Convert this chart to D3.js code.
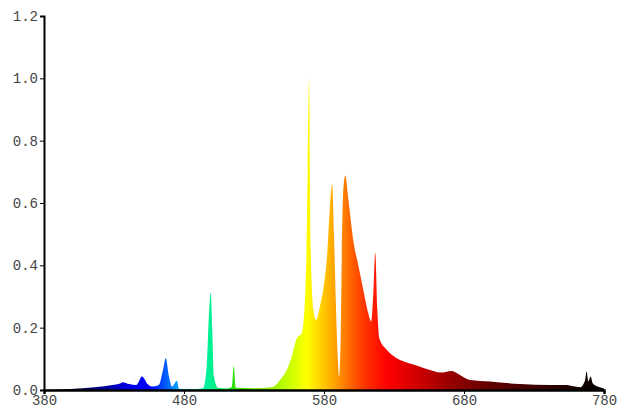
<!DOCTYPE html>
<html>
<head>
<meta charset="utf-8">
<script src="https://cdn.jsdelivr.net/npm/d3@7"></script>
<style>
	body { margin: 0; background: #fff; }
	svg { display: block; }
	.tick text { font-family: "Liberation Mono", "DejaVu Sans Mono", monospace; font-size: 14px; fill: #444; }
</style>
</head>
<body>
<svg width="622" height="412"></svg>
<script>
// wavelength (nm) and relative intensity
const wavelengths = [
	380, 399, 416, 430, 435, 436, 441, 446, 450, 454, 457, 462, 465, 467, 469.3, 471.4, 475, 476.4,
	485, 493.6, 496.2, 497.9, 499.1, 500.2, 501.4, 504.3, 510, 514.1, 515.5, 517.1, 530, 543.6,
	548.6, 553.4, 556.9, 560.5, 564.1, 566.4, 567.5, 568.4, 569.3, 570.5, 572.4, 574.3, 577.1, 580.7,
	582.5, 583.8, 585.9, 587.1, 588.4, 589.8, 590.7, 591.9, 592.6, 593.8, 595.2, 597.4, 600.9, 604.5,
	608.1, 611.6, 613.6, 615.2, 616.6, 618.1, 619.5, 624.8, 631.9, 636.6, 648.6, 655.7, 662.9,
	667, 671.2, 677.1, 684.3, 698.6, 720, 741.4, 753.4, 758, 762.9, 766.4, 767.6, 768.8, 770.5,
	771.9, 777.1, 780
]
const intensity = [
	0.0, 0.003, 0.009, 0.017, 0.022, 0.025, 0.019, 0.016, 0.043, 0.019, 0.011, 0.016, 0.064, 0.102, 0.043, 0.011, 0.030, 0.004,
	0.003, 0.006, 0.075, 0.25, 0.313, 0.19, 0.043, 0.007, 0.005, 0.01, 0.077, 0.007, 0.006, 0.01,
	0.032, 0.064, 0.107, 0.165, 0.183, 0.29, 0.45, 0.72, 0.997, 0.45, 0.257, 0.225, 0.268, 0.364,
	0.45, 0.557, 0.659, 0.505, 0.29, 0.107, 0.043, 0.17, 0.40, 0.643, 0.688, 0.611, 0.48, 0.40,
	0.32, 0.246, 0.22, 0.31, 0.44, 0.257, 0.166, 0.129, 0.102, 0.092, 0.075, 0.064, 0.056,
	0.058, 0.061, 0.048, 0.032, 0.027, 0.019, 0.016, 0.016, 0.012, 0.009, 0.03, 0.059, 0.027, 0.043,
	0.022, 0.009, 0.005
]
const xTicks = [380, 480, 580, 680, 780]
const yTicks = [0, 0.2, 0.4, 0.6, 0.8, 1.0, 1.2]

// colour of the light at each wavelength
const colorStops = [
	[380, "#000008"], [400, "#000040"], [420, "#00008c"], [440, "#0000e6"], [455, "#0000ff"],
	[466, "#0055ff"], [475, "#009cff"], [482, "#00d0f0"], [490, "#00f0b0"], [500, "#00f090"],
	[508, "#10f050"], [516, "#30e000"], [540, "#90f000"], [555, "#c8ff00"], [568, "#ffff00"],
	[578, "#ffd000"], [588, "#ffa000"], [598, "#ff6a00"], [610, "#ff3000"], [625, "#ff0000"],
	[645, "#d40000"], [670, "#980000"], [700, "#600000"], [740, "#300000"], [765, "#100000"], [780, "#000000"]
]

const data = wavelengths.map((w, i) => ({ w: w, v: intensity[i] }))

const margin = { top: 16, right: 18, left: 44, bottom: 22 }
const svg = d3.select("svg")
const width = +svg.attr("width") - margin.left - margin.right
const height = +svg.attr("height") - margin.top - margin.bottom

const x = d3.scaleLinear().domain([380, 780]).range([0, width])
const y = d3.scaleLinear().domain([0, 1.2]).range([height, 0])

const graph = svg.append("g")
	.attr("transform", `translate(${margin.left}, ${margin.top})`)

const grad = svg.append("defs").append("linearGradient")
	.attr("id", "spectrum")
	.attr("gradientUnits", "userSpaceOnUse")
	.attr("x1", x(380)).attr("x2", x(780))
	.attr("y1", 0).attr("y2", 0)

grad.selectAll("stop")
	.data(colorStops)
	.enter()
	.append("stop")
	.attr("offset", (d) => (d[0] - 380) / 400)
	.attr("stop-color", (d) => d[1])

const area = d3.area()
	.curve(d3.curveMonotoneX)
	.x((d) => x(d.w))
	.y0(height)
	.y1((d) => y(d.v))

graph.append("path")
	.datum(data)
	.attr("d", area)
	.attr("fill", "url(#spectrum)")

const xAxis = d3.axisBottom(x).tickValues(xTicks).tickFormat(d3.format("d")).tickSize(4).tickPadding(1)
const yAxis = d3.axisLeft(y).tickValues(yTicks).tickFormat(d3.format(".1f")).tickSize(4).tickPadding(2)

const xAxisGroup = graph.append("g")
	.attr("transform", `translate(0, ${height})`)
	.call(xAxis)
const yAxisGroup = graph.append("g").call(yAxis)

xAxisGroup.select(".domain").attr("stroke-width", 2.5)
yAxisGroup.select(".domain").attr("stroke-width", 2)
</script>
</body>
</html>
